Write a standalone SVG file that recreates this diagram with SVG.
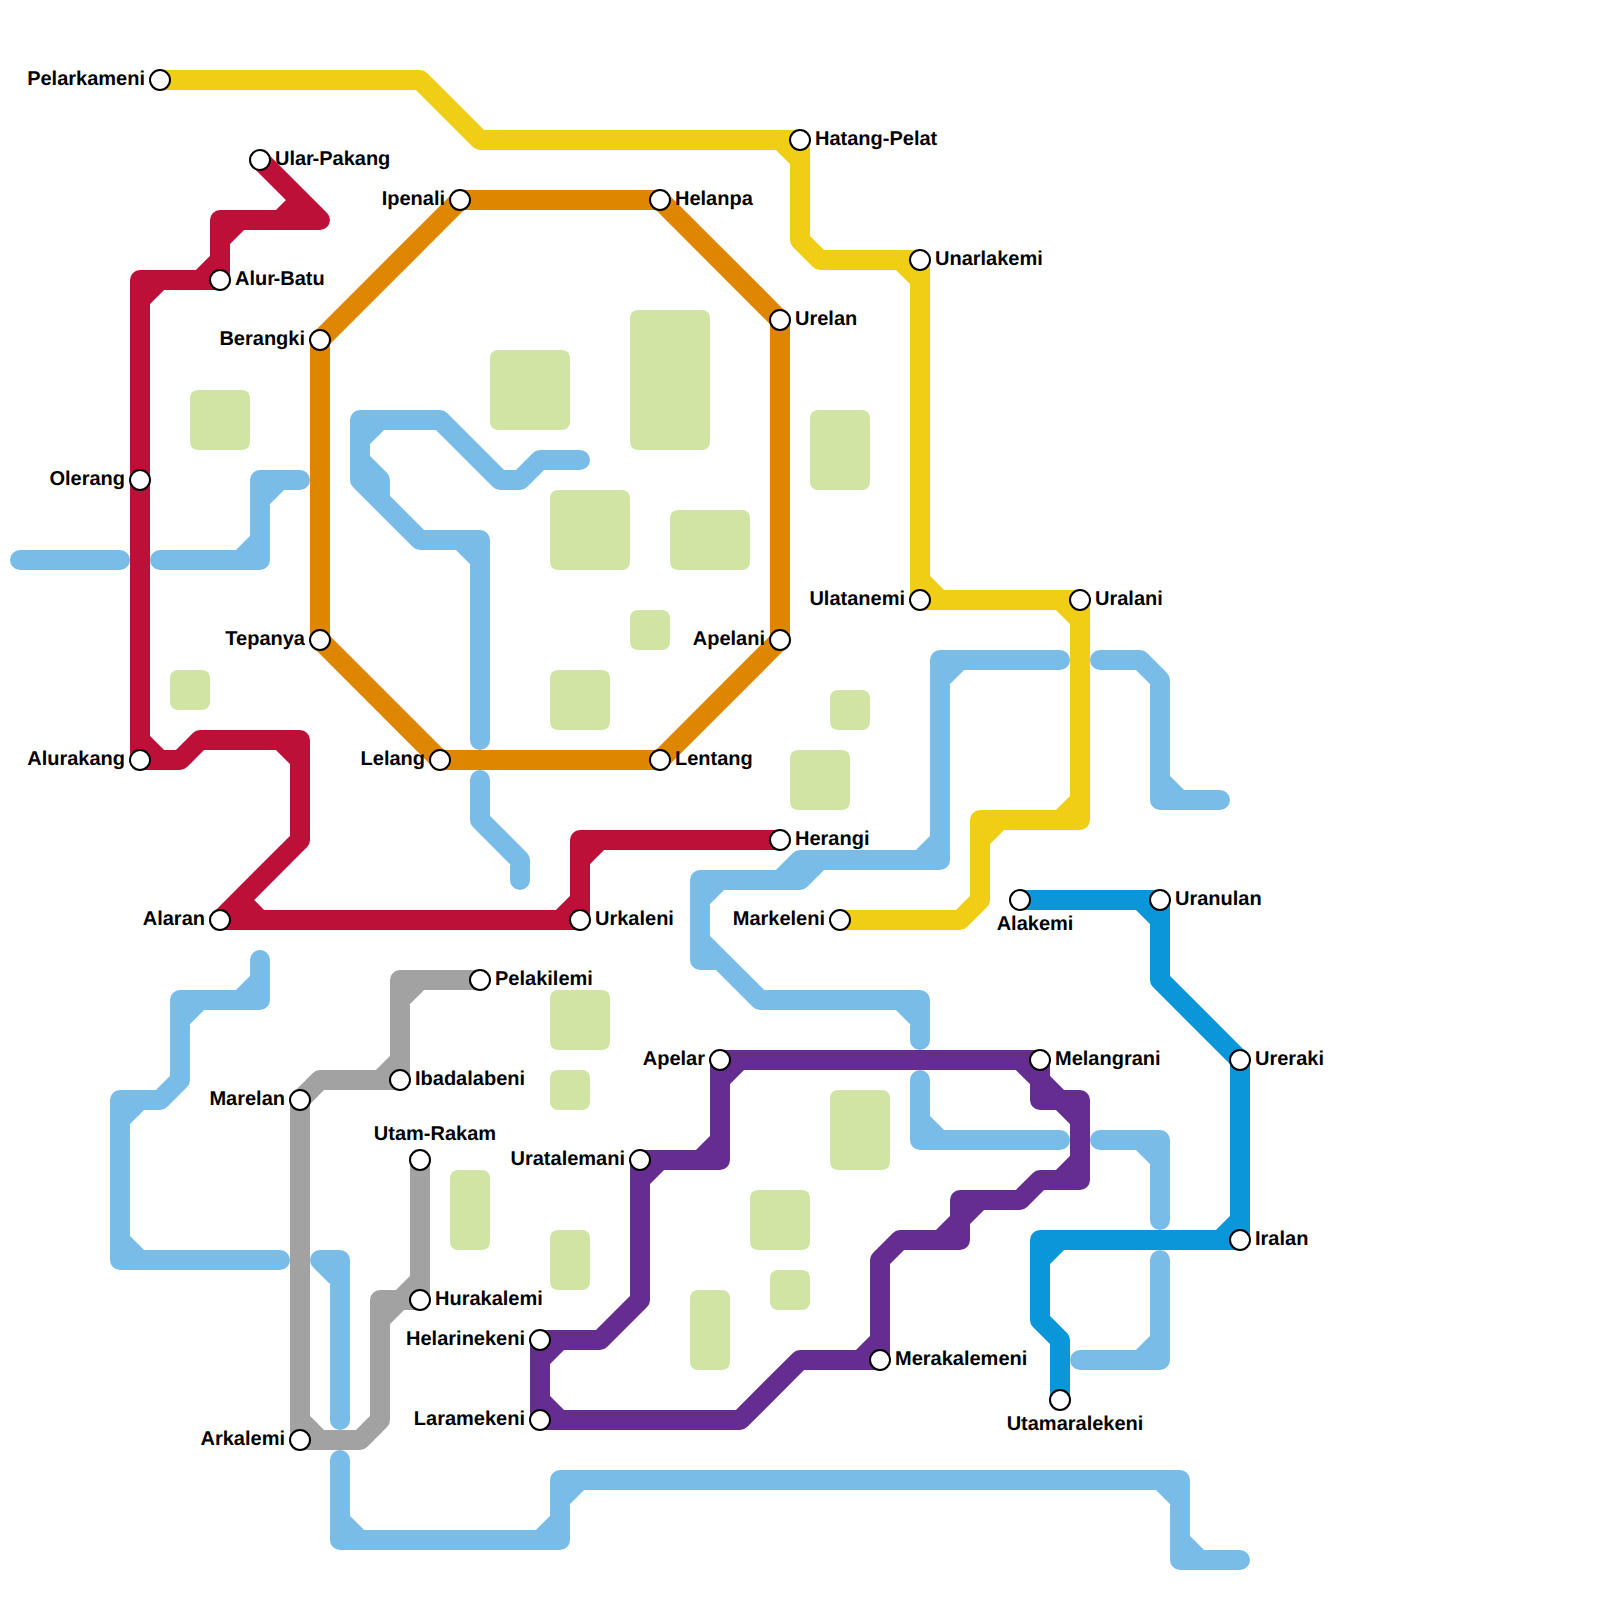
<svg xmlns="http://www.w3.org/2000/svg" width="1600" height="1600" viewBox="0 0 1600 1600">
<style>
.g{fill:#d0e4a4}
.l{fill:none;stroke-width:20;stroke-linecap:round;stroke-linejoin:round}
.s{fill:#fff;stroke:#000;stroke-width:2}
text{font-family:"Liberation Sans",Arial,sans-serif;font-weight:700;font-size:20px;fill:#000;text-rendering:geometricPrecision}
.e{text-anchor:end}
.m{text-anchor:middle}
</style>
<rect width="1600" height="1600" fill="#fff"/>
<g id="parks">
<rect class="g" x="190" y="390" width="60" height="60" rx="8"/>
<rect class="g" x="490" y="350" width="80" height="80" rx="8"/>
<rect class="g" x="630" y="310" width="80" height="140" rx="8"/>
<rect class="g" x="810" y="410" width="60" height="80" rx="8"/>
<rect class="g" x="550" y="490" width="80" height="80" rx="8"/>
<rect class="g" x="670" y="510" width="80" height="60" rx="8"/>
<rect class="g" x="630" y="610" width="40" height="40" rx="8"/>
<rect class="g" x="170" y="670" width="40" height="40" rx="8"/>
<rect class="g" x="550" y="670" width="60" height="60" rx="8"/>
<rect class="g" x="830" y="690" width="40" height="40" rx="8"/>
<rect class="g" x="790" y="750" width="60" height="60" rx="8"/>
<rect class="g" x="550" y="990" width="60" height="60" rx="8"/>
<rect class="g" x="550" y="1070" width="40" height="40" rx="8"/>
<rect class="g" x="830" y="1090" width="60" height="80" rx="8"/>
<rect class="g" x="450" y="1170" width="40" height="80" rx="8"/>
<rect class="g" x="750" y="1190" width="60" height="60" rx="8"/>
<rect class="g" x="550" y="1230" width="40" height="60" rx="8"/>
<rect class="g" x="770" y="1270" width="40" height="40" rx="8"/>
<rect class="g" x="690" y="1290" width="40" height="80" rx="8"/>
</g>
<g id="connectors">
<path id="line-lightblue" class="l" stroke="#7abce8" d="M20 560H120
M160 560H260V480H300M240 560L260 540M280 480L260 500
M580 460H540L520 480H500L440 420H360V480L420 540H480V740M380 420L360 440M360 460L380 480V500M460 540L480 560
M480 780V820L520 860V880
M260 960V1000H180V1080L160 1100H120V1260H280M240 1000L260 980M200 1000L180 1020M140 1100L120 1120M120 1240L140 1260
M320 1260H340V1420M320 1260L340 1280
M340 1460V1540H560V1480H1180V1560H1240M340 1520L360 1540M540 1540L560 1520M580 1480L560 1500M1160 1480L1180 1500M1180 1540L1200 1560
M1060 660H940V860H800L780 880H700V960H720L760 1000H920V1040M960 660L940 680M920 860L940 840M820 860L800 880H780M720 880L700 900M700 940L720 960M900 1000L920 1020
M1100 660H1140L1160 680V800H1220M1160 780L1180 800
M920 1080V1140H1060M920 1120L940 1140
M1100 1140H1160V1220M1140 1140L1160 1160
M1160 1260V1360H1080M1160 1340L1140 1360"/>
<path id="line-gray" class="l" stroke="#a2a2a2" d="M420 1160V1300H380V1420L360 1440H300V1100L320 1080H400V980H480M420 1280L400 1300M400 1300L380 1320M300 1420L320 1440M380 1080L400 1060M420 980L400 1000"/>
<path id="line-darkblue" class="l" stroke="#0a96d8" d="M1020 900H1160V980L1240 1060V1240H1040V1320L1060 1340V1400M1140 900L1160 920M1240 1220L1220 1240M1060 1240L1040 1260"/>
<path id="line-purple" class="l" stroke="#662d91" d="M640 1160H720V1060H1040V1100H1080V1180H1040L1020 1200H960V1240H900L880 1260V1360H800L740 1420H540V1340H600L640 1300V1160M660 1160L640 1180M700 1160L720 1140M740 1060L720 1080M1020 1060L1040 1080M1040 1080L1060 1100M1060 1100L1080 1120M1080 1160L1060 1180M980 1200L960 1220M960 1220L940 1240M880 1340L860 1360M540 1400L560 1420M560 1340L540 1360"/>
<path id="line-red" class="l" stroke="#bd1038" d="M260 160L320 220H220V280H140V760H180L200 740H300V840L220 920H580V840H780M300 200L280 220M240 220L220 240M200 280L220 260M160 280L140 300M140 740L160 760M280 740L300 760M240 900L260 920M560 920L580 900M600 840L580 860"/>
<path id="line-orange" class="l" stroke="#de8600" d="M460 200H660L780 320V640L660 760H440L320 640V340Z"/>
<path id="line-yellow" class="l" stroke="#f0ce15" d="M160 80H420L480 140H800V240L820 260H920V600H1080V820H980V900L960 920H840M780 140L800 160M900 260L920 280M920 580L940 600M1060 600L1080 620M1080 800L1060 820M1000 820L980 840"/>
</g>
<g id="st-pelarkameni"><circle class="s" cx="160" cy="80" r="10"/><text class="e" x="145" y="85">Pelarkameni</text></g>
<g id="st-hatang-pelat"><circle class="s" cx="800" cy="140" r="10"/><text x="815" y="145">Hatang-Pelat</text></g>
<g id="st-ular-pakang"><circle class="s" cx="260" cy="160" r="10"/><text x="275" y="165">Ular<tspan dx="-1.4">-</tspan>Pakang</text></g>
<g id="st-ipenali"><circle class="s" cx="460" cy="200" r="10"/><text class="e" x="445" y="205">Ipenali</text></g>
<g id="st-helanpa"><circle class="s" cx="660" cy="200" r="10"/><text x="675" y="205">Helanpa</text></g>
<g id="st-unarlakemi"><circle class="s" cx="920" cy="260" r="10"/><text x="935" y="265">Unarlakemi</text></g>
<g id="st-alur-batu"><circle class="s" cx="220" cy="280" r="10"/><text x="235" y="285">Alur<tspan dx="-1.4">-</tspan>Batu</text></g>
<g id="st-urelan"><circle class="s" cx="780" cy="320" r="10"/><text x="795" y="325">Urelan</text></g>
<g id="st-berangki"><circle class="s" cx="320" cy="340" r="10"/><text class="e" x="305" y="345">Berangki</text></g>
<g id="st-olerang"><circle class="s" cx="140" cy="480" r="10"/><text class="e" x="125" y="485">Olerang</text></g>
<g id="st-ulatanemi"><circle class="s" cx="920" cy="600" r="10"/><text class="e" x="905" y="605">Ulatanemi</text></g>
<g id="st-uralani"><circle class="s" cx="1080" cy="600" r="10"/><text x="1095" y="605">Uralani</text></g>
<g id="st-tepanya"><circle class="s" cx="320" cy="640" r="10"/><text class="e" x="305" y="645">Tepanya</text></g>
<g id="st-apelani"><circle class="s" cx="780" cy="640" r="10"/><text class="e" x="765" y="645">Apelani</text></g>
<g id="st-alurakang"><circle class="s" cx="140" cy="760" r="10"/><text class="e" x="125" y="765">Alurakang</text></g>
<g id="st-lelang"><circle class="s" cx="440" cy="760" r="10"/><text class="e" x="425" y="765">Lelang</text></g>
<g id="st-lentang"><circle class="s" cx="660" cy="760" r="10"/><text x="675" y="765">Lentang</text></g>
<g id="st-herangi"><circle class="s" cx="780" cy="840" r="10"/><text x="795" y="845">Herangi</text></g>
<g id="st-alakemi"><circle class="s" cx="1020" cy="900" r="10"/><text class="m" x="1035" y="930">Alakemi</text></g>
<g id="st-uranulan"><circle class="s" cx="1160" cy="900" r="10"/><text x="1175" y="905">Uranulan</text></g>
<g id="st-alaran"><circle class="s" cx="220" cy="920" r="10"/><text class="e" x="205" y="925">Alaran</text></g>
<g id="st-urkaleni"><circle class="s" cx="580" cy="920" r="10"/><text x="595" y="925">Urkaleni</text></g>
<g id="st-markeleni"><circle class="s" cx="840" cy="920" r="10"/><text class="e" x="825" y="925">Markeleni</text></g>
<g id="st-pelakilemi"><circle class="s" cx="480" cy="980" r="10"/><text x="495" y="985">Pelakilemi</text></g>
<g id="st-apelar"><circle class="s" cx="720" cy="1060" r="10"/><text class="e" x="705" y="1065">Apelar</text></g>
<g id="st-melangrani"><circle class="s" cx="1040" cy="1060" r="10"/><text x="1055" y="1065">Melangrani</text></g>
<g id="st-ureraki"><circle class="s" cx="1240" cy="1060" r="10"/><text x="1255" y="1065">Ureraki</text></g>
<g id="st-ibadalabeni"><circle class="s" cx="400" cy="1080" r="10"/><text x="415" y="1085">Ibadalabeni</text></g>
<g id="st-marelan"><circle class="s" cx="300" cy="1100" r="10"/><text class="e" x="285" y="1105">Marelan</text></g>
<g id="st-utam-rakam"><circle class="s" cx="420" cy="1160" r="10"/><text class="m" x="435" y="1140">Utam-Rakam</text></g>
<g id="st-uratalemani"><circle class="s" cx="640" cy="1160" r="10"/><text class="e" x="625" y="1165">Uratalemani</text></g>
<g id="st-iralan"><circle class="s" cx="1240" cy="1240" r="10"/><text x="1255" y="1245">Iralan</text></g>
<g id="st-hurakalemi"><circle class="s" cx="420" cy="1300" r="10"/><text x="435" y="1305">Hurakalemi</text></g>
<g id="st-helarinekeni"><circle class="s" cx="540" cy="1340" r="10"/><text class="e" x="525" y="1345">Helarinekeni</text></g>
<g id="st-merakalemeni"><circle class="s" cx="880" cy="1360" r="10"/><text x="895" y="1365">Merakalemeni</text></g>
<g id="st-utamaralekeni"><circle class="s" cx="1060" cy="1400" r="10"/><text class="m" x="1075" y="1430">Utamaralekeni</text></g>
<g id="st-laramekeni"><circle class="s" cx="540" cy="1420" r="10"/><text class="e" x="525" y="1425">Laramekeni</text></g>
<g id="st-arkalemi"><circle class="s" cx="300" cy="1440" r="10"/><text class="e" x="285" y="1445">Arkalemi</text></g>
</svg>
